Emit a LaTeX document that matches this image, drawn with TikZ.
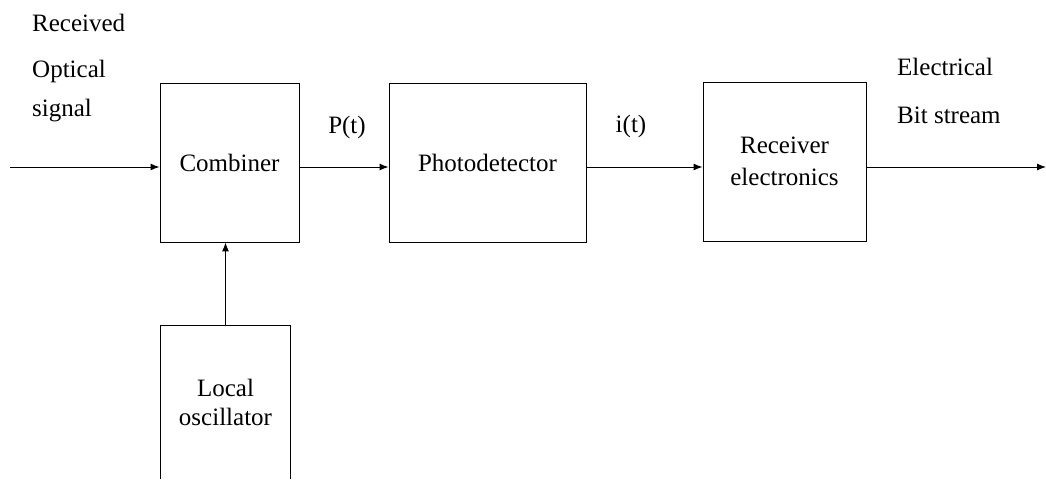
\documentclass[tikz,border=0pt]{standalone}
\usepackage{fontspec}
\setmainfont{Liberation Serif}
\usetikzlibrary{arrows.meta}
\begin{document}
\begin{tikzpicture}[x=1pt,y=-1pt,
  box/.style={draw, line width=0.9pt, align=center, inner sep=0pt,
    font=\fontsize{25}{32}\selectfont},
  openbox/.style={align=center, inner sep=0pt,
    font=\fontsize{25}{29}\selectfont},
  lbl/.style={inner sep=0pt, font=\fontsize{25}{30}\selectfont},
  arr/.style={line width=1pt, -{Latex[length=9pt,width=7pt]}}]
\useasboundingbox (0,0) rectangle (1046,479);
% boxes
\node[box, minimum width=139, minimum height=159] (comb) at (229.5,162.5) {Combiner};
\node[box, minimum width=197, minimum height=159] (photo) at (487.5,162.5) {Photodetector};
\node[box, minimum width=163, minimum height=159] (recv) at (784.5,161.5) {Receiver\\electronics};
\node[openbox, minimum width=129, minimum height=153] (lo) at (225.5,402.5) {Local\\oscillator};
\draw[line width=0.9pt] (lo.south west) -- (lo.north west) -- (lo.north east) -- (lo.south east);
% free ends
\coordinate (in) at (10,167);
\coordinate (out) at (1046,167);
% connectors
\draw[arr] (in) -- (comb.west |- in);
\draw[arr] (comb.east |- in) -- (photo.west |- in);
\draw[arr] (photo.east |- in) -- (recv.west |- in);
\draw[arr] (recv.east |- out) -- (out);
\draw[arr] (lo.north) -- (lo.north |- comb.south);
% labels
\node[lbl, anchor=base west] (l1) at (32,31) {Received};
\node[lbl, anchor=base west] (l2) at (32,77) {Optical};
\node[lbl, anchor=base west] (l3) at (32,116) {signal};
\node[lbl, anchor=base] (pt) at (347,133) {P(t)};
\node[lbl, anchor=base] (it) at (631,132) {i(t)};
\node[lbl, anchor=base west] (r1) at (897,75) {Electrical};
\node[lbl, anchor=base west] (r2) at (897,123) {Bit stream};
\end{tikzpicture}
\end{document}
